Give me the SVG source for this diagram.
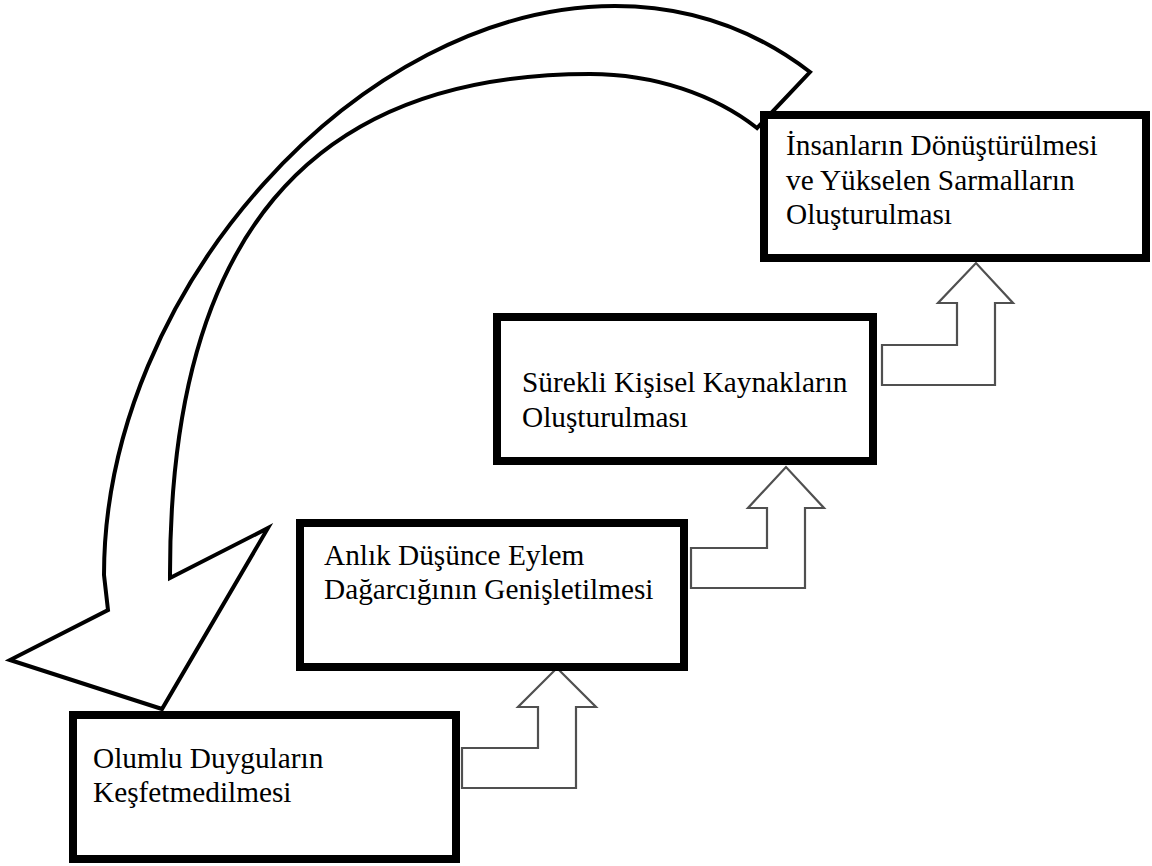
<svg xmlns="http://www.w3.org/2000/svg" width="1152" height="866" viewBox="0 0 1152 866">
  <style>
    .box { fill: #ffffff; stroke: #000000; stroke-width: 8; }
    .label { font-family: "Liberation Serif", "Times New Roman", serif; font-size: 29.3px; fill: #000000; }
    .bent { fill: #ffffff; stroke: #505050; stroke-width: 2.2; stroke-linejoin: miter; }
    .curved { fill: #ffffff; stroke: #000000; stroke-width: 4; stroke-linejoin: miter; }
  </style>
  <rect width="1152" height="866" fill="#ffffff"/>

  <g id="connectors">
    <!-- large curved feedback arrow from the top box back to the first box -->
    <path class="curved" d="M 810,72 C 755,30 690,6 615,6 C 360,6 104,290 104,575 L 108,610 L 10,660 L 162,709 L 268,528 L 170,578 C 169,239 308,74 590,74 C 655,74 715,95 757,128 Z"/>
    <!-- bent-up step arrows -->
    <path class="bent" stroke="#111111" d="M 462,748 L 538,748 L 538,707 L 518,707 L 557,668 L 596,707 L 576,707 L 576,788 L 462,788 Z"/>
    <path class="bent" d="M 691,548 L 767,548 L 767,508 L 748,508 L 786,467 L 824,508 L 805,508 L 805,588 L 691,588 Z"/>
    <path class="bent" d="M 882,345 L 957,345 L 957,303 L 938,303 L 976,263 L 1013,303 L 995,303 L 995,385 L 882,385 Z"/>
  </g>

  <g id="node-olumlu">
    <rect class="box" x="73" y="715" width="383" height="144"/>
    <text class="label" x="93" y="768">Olumlu Duyguların</text>
    <text class="label" x="93" y="802">Keşfetmedilmesi</text>
  </g>

  <g id="node-anlik">
    <rect class="box" x="300" y="523" width="384" height="144"/>
    <text class="label" x="324" y="565">Anlık Düşünce Eylem</text>
    <text class="label" x="324" y="599">Dağarcığının Genişletilmesi</text>
  </g>

  <g id="node-surekli">
    <rect class="box" x="497" y="317" width="376" height="144"/>
    <text class="label" x="522" y="392">Sürekli Kişisel Kaynakların</text>
    <text class="label" x="522" y="427">Oluşturulması</text>
  </g>

  <g id="node-insanlarin">
    <rect class="box" x="764" y="115" width="382" height="143"/>
    <text class="label" x="786" y="155">İnsanların Dönüştürülmesi</text>
    <text class="label" x="786" y="189.5">ve Yükselen Sarmalların</text>
    <text class="label" x="786" y="224">Oluşturulması</text>
  </g>
</svg>
